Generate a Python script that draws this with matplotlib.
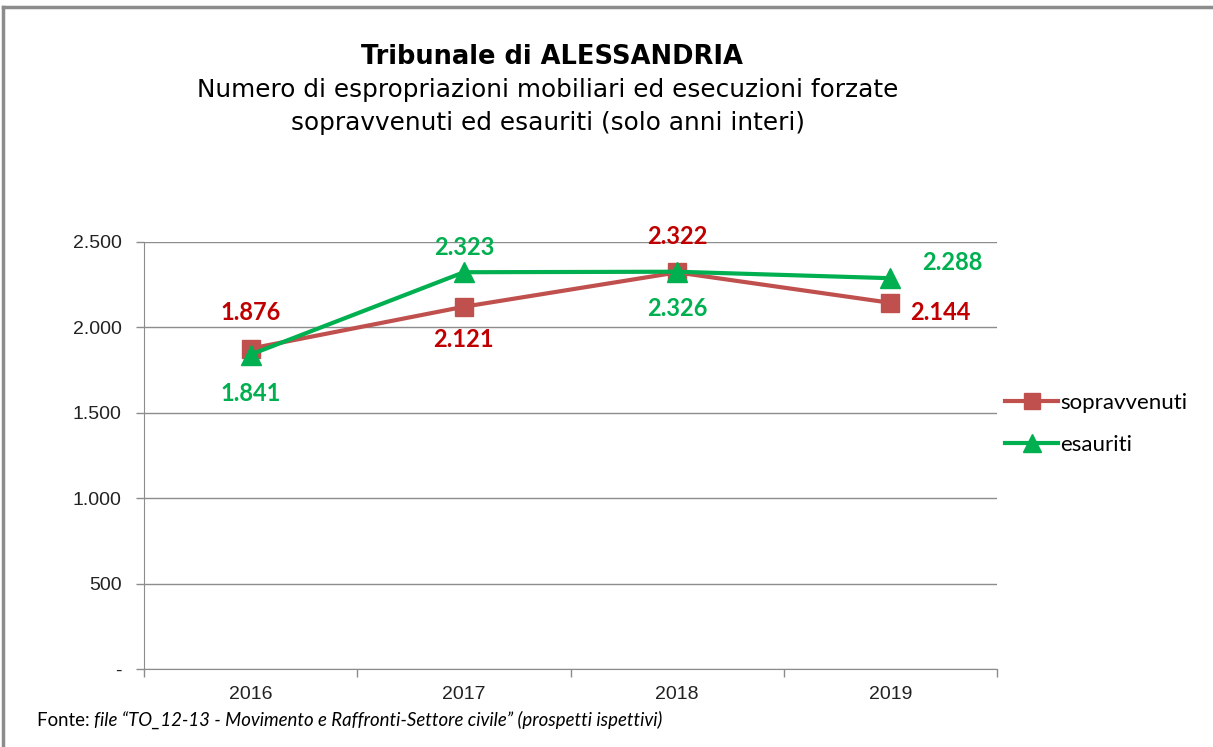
import numpy as np
import matplotlib
matplotlib.use("Agg")
import matplotlib.pyplot as plt
from matplotlib.lines import Line2D
from matplotlib.ticker import FixedLocator, FuncFormatter

years = ["2016", "2017", "2018", "2019"]
sopravvenuti = [1876, 2121, 2322, 2144]
esauriti = [1841, 2323, 2326, 2288]
yticks = [0, 500, 1000, 1500, 2000, 2500]

RED_LINE = "#C0504D"
RED_TXT = "#C00000"
GREEN = "#00B050"
GRID = "#8C8C8C"


def fmt(v):
    return f"{int(v):,}".replace(",", ".")


fig = plt.figure(figsize=(12.13, 7.47), dpi=100)
ax = fig.add_axes([144 / 1213, 1 - 669 / 747, (997 - 144) / 1213, (669 - 242) / 747])

x = np.arange(len(years))
ax.plot(x, sopravvenuti, color=RED_LINE, lw=3, marker="s", ms=13, label="sopravvenuti", zorder=3)
ax.plot(x, esauriti, color=GREEN, lw=3, marker="^", ms=14, label="esauriti", zorder=4)

ax.set_xlim(-0.5, 3.5)
ax.set_ylim(0, 2500)
ax.set_yticks(yticks)
ax.yaxis.set_major_formatter(FuncFormatter(lambda v, p: "-" if v == 0 else fmt(v)))
ax.xaxis.set_major_locator(FixedLocator([-0.5, 0.5, 1.5, 2.5, 3.5]))
ax.xaxis.set_minor_locator(FixedLocator(x))
ax.set_xticklabels([], minor=False)
ax.set_xticklabels(years, minor=True)
ax.tick_params(axis="x", which="major", length=6, color=GRID, width=1)
ax.tick_params(axis="x", which="minor", length=0, pad=12, labelsize=14, labelcolor="#222222")
ax.tick_params(axis="y", length=6, color=GRID, width=1, pad=10, labelsize=14, labelcolor="#222222")
for lab in ax.get_xticklabels(minor=True) + ax.get_yticklabels():
    lab.set_fontfamily("Liberation Sans")
ax.grid(axis="y", color=GRID, lw=1)
ax.set_axisbelow(True)
for s in ["top", "right"]:
    ax.spines[s].set_visible(False)
for s in ["left", "bottom"]:
    ax.spines[s].set_color(GRID)

# data labels (offsets in pixels)
red_off = [(0, 36), (0, -33), (0, 36), (50, -10)]
green_off = [(0, -39), (0, 25), (0, -37), (62, 16)]
for i in range(len(years)):
    ax.annotate(fmt(sopravvenuti[i]), (x[i], sopravvenuti[i]),
                xytext=red_off[i], textcoords="offset pixels", ha="center", va="center",
                color=RED_TXT, fontsize=17, fontweight="bold", family="Lato")
    ax.annotate(fmt(esauriti[i]), (x[i], esauriti[i]),
                xytext=green_off[i], textcoords="offset pixels", ha="center", va="center",
                color=GREEN, fontsize=17, fontweight="bold", family="Lato")

ax.legend(loc="center left", bbox_to_anchor=(985 / 1213, 1 - 424 / 747),
          bbox_transform=fig.transFigure, frameon=False, handlelength=2.4,
          handletextpad=0.1, labelspacing=1.0, markerscale=0.9,
          prop={"family": "Lato", "size": 16})

# titles
fig.text(552 / 1213, 1 - 57 / 747, "Tribunale di ALESSANDRIA", ha="center", va="center",
         fontsize=18.5, fontweight="bold", family="DejaVu Sans")
fig.text(548 / 1213, 1 - 90 / 747, "Numero di espropriazioni mobiliari ed esecuzioni forzate",
         ha="center", va="center", fontsize=17.8, family="DejaVu Sans")
fig.text(548 / 1213, 1 - 123 / 747, "sopravvenuti ed esauriti (solo anni interi)",
         ha="center", va="center", fontsize=17.8, family="DejaVu Sans")

# footer: "Fonte:" regular, rest italic
t1 = fig.text(37 / 1213, 1 - 720 / 747, "Fonte: ", ha="left", va="center", fontsize=13.4, family="Lato")
ax.annotate("file \u201cTO_12-13 - Movimento e Raffronti-Settore civile\u201d (prospetti ispettivi)",
            xy=(1, 0.5), xycoords=t1, ha="left", va="center", fontsize=13.4, family="Lato",
            style="italic", annotation_clip=False)

# frame
fig.add_artist(Line2D([3 / 1213, 1], [1 - 7 / 747, 1 - 7 / 747], transform=fig.transFigure, color=GRID, lw=2.5))
fig.add_artist(Line2D([3 / 1213, 3 / 1213], [0, 1 - 7 / 747], transform=fig.transFigure, color=GRID, lw=2.5))

fig.savefig("out.png", dpi=100)
